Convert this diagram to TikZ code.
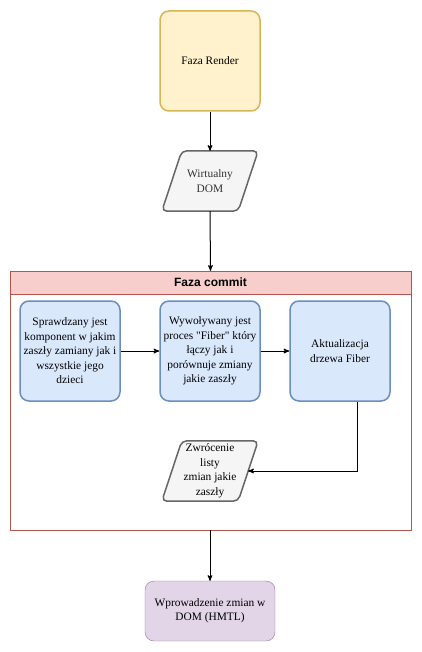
\documentclass[tikz,border=0pt]{standalone}
\usepackage{fontspec}
\setmainfont{Liberation Serif}
\setsansfont{Liberation Sans}
\usetikzlibrary{arrows}
\usetikzlibrary{positioning}
\usetikzlibrary{calc}

\definecolor{renderfill}{HTML}{FFF2CC}
\definecolor{renderline}{HTML}{D6B656}
\definecolor{grayfill}{HTML}{F5F5F5}
\definecolor{grayline}{HTML}{666666}
\definecolor{bluefill}{HTML}{DAE8FC}
\definecolor{blueline}{HTML}{6C8EBF}
\definecolor{redfill}{HTML}{F8CECC}
\definecolor{redline}{HTML}{B85450}
\definecolor{purplefill}{HTML}{E1D5E7}
\definecolor{purpleline}{HTML}{9673A6}

\begin{document}
\begin{tikzpicture}[x=1pt,y=-1pt]
    \tikzset{
      >=stealth',
      every node/.style={font=\fontsize{11.4}{14.5}\selectfont},
      box/.style={draw, rounded corners=9pt, line width=1.5pt, minimum width=100pt,
        minimum height=100pt, align=center, inner sep=0pt},
      render/.style={box, fill=renderfill, draw=renderline},
      blue/.style={box, fill=bluefill, draw=blueline},
      para/.style={minimum width=96pt, minimum height=60pt, align=center, inner sep=0pt},
      parashape/.style={fill=grayfill, draw=grayline, line width=1.5pt, rounded corners=5pt},
      link/.style={->, line width=1pt},
    }
    \useasboundingbox (0,0) rectangle (422,652);

    \node[render] (render) at (210,61) {Faza Render};
    \node[para] (dom) at (210,181) {};
    \draw[parashape] ([xshift=20]dom.north west) -- (dom.north east)
      -- ([xshift=-20]dom.south east) -- (dom.south west) -- cycle;
    \node[para, text=black!80] at (dom) {Wirtualny\\DOM};

    % Faza commit container
    \draw[draw=redline, fill=white] (10,271) rectangle (411,530);
    \node[draw=redline, fill=redfill, minimum width=401pt, minimum height=23pt,
      inner sep=0pt, font=\sffamily\bfseries\fontsize{12}{14}\selectfont]
      (commit) at (210.5,282.5) {Faza commit};
    \coordinate (commitbot) at (210,530);

    \node[blue] (check) at (70,351) {Sprawdzany jest\\komponent w jakim\\zaszły zamiany jak i\\wszystkie jego\\dzieci};
    \node[blue, right=38.5pt of check] (fiber) {Wywoływany jest\\proces \textquotedbl Fiber\textquotedbl{} który\\łączy jak i\\porównuje zmiany\\jakie zaszły};
    \node[blue, right=28.5pt of fiber] (update) {Aktualizacja\\drzewa Fiber};

    \node[para] (list) at (210,471) {};
    \draw[parashape] ([xshift=20]list.north west) -- (list.north east)
      -- ([xshift=-20]list.south east) -- (list.south west) -- cycle;
    \node[para] at (list) {Zwrócenie\\listy\\zmian jakie\\zaszły};

    \node[draw=purpleline, fill=purplefill, rounded corners=9pt, minimum width=130pt,
      minimum height=60pt, align=center, inner sep=0pt]
      (dom2) at (210,611) {Wprowadzenie zmian w\\DOM (HMTL)};

    \draw[link] (render) -- (dom.north);
    \draw[link] (dom.south) -- (commit.north);
    \draw[link] (check) -- (fiber);
    \draw[link] (fiber) -- (update);
    \draw[link] ([xshift=17]update.south) |- ([xshift=-10]list.east);
    \draw[link] (commitbot) -- (dom2);
\end{tikzpicture}
\end{document}
